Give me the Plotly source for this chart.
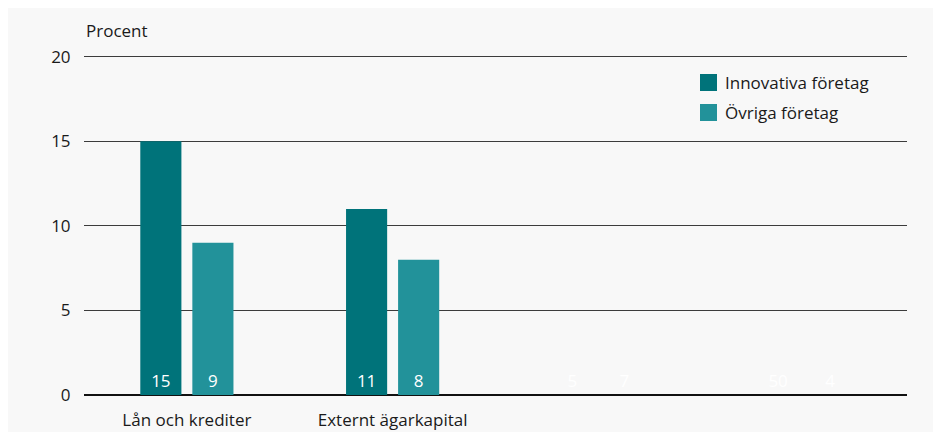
import plotly.graph_objects as go

categories = ["Lån och krediter", "Externt ägarkapital", "", ""]
innovativa = [15, 11, 5, 50]
ovriga = [9, 8, 7, 4]
series_names = ["Innovativa företag", "Övriga företag"]
y_ticks = [0, 5, 10, 15, 20]

dark = "#00737A"
light = "#22929A"
bg = "#F8F8F8"
font = "Open Sans"

W, H = 941, 432
OFF = 8  # page body margin
YMAX = 20.1
L, R, T, B = 84 - OFF, 42, 47, 45
pw, ph = W - L - R, H - T - B

x = list(range(len(categories)))

def colors(c):
    return [c, c, "rgba(0,0,0,0)", "rgba(0,0,0,0)"]

fig = go.Figure()
for name, vals, col in [(series_names[0], innovativa, dark), (series_names[1], ovriga, light)]:
    fig.add_trace(go.Bar(
        x=x, y=vals, name=name,
        marker=dict(color=colors(col), line=dict(width=0)),
        text=[str(v) for v in vals],
        textposition="inside", insidetextanchor="start",
        textfont=dict(color="white", size=17, family=font),
        textangle=0, cliponaxis=True, showlegend=False,
    ))

# convert screenshot pixel positions to paper coords
def px_x(p):
    return (p - OFF - L) / pw

def px_y(p):
    return (H - B - (p - OFF)) / ph

shapes = []
annotations = [dict(text="Procent", xref="paper", yref="paper", x=0, y=px_y(30),
                    xanchor="left", yanchor="middle", showarrow=False,
                    font=dict(size=17))]
for i, (name, col) in enumerate([(series_names[0], dark), (series_names[1], light)]):
    top = 74 + 30 * i
    shapes.append(dict(type="rect", xref="paper", yref="paper",
                       x0=px_x(700), x1=px_x(717), y0=px_y(top + 17), y1=px_y(top),
                       fillcolor=col, line=dict(width=0)))
    annotations.append(dict(text=name, xref="paper", yref="paper", x=px_x(723),
                            y=px_y(top + 8.5), xanchor="left", yanchor="middle",
                            showarrow=False, font=dict(size=17)))

fig.update_layout(
    width=W, height=H,
    paper_bgcolor=bg, plot_bgcolor=bg,
    margin=dict(l=L, r=R, t=T, b=B, autoexpand=False),
    barmode="group", bargap=0.494, bargroupgap=0.21,
    font=dict(family=font, size=17, color="#1a1a1a"),
    showlegend=False,
    xaxis=dict(tickmode="array", tickvals=x, ticktext=categories,
               range=[-0.5, 3.5], showgrid=False, ticks="outside", ticklen=10,
               tickcolor="rgba(0,0,0,0)", zeroline=False,
               showline=False, tickfont=dict(size=17), automargin=False),
    yaxis=dict(range=[0, YMAX], tickvals=y_ticks, showgrid=True, gridcolor="#3c3c3c",
               gridwidth=1, zeroline=True, zerolinecolor="#111111", zerolinewidth=2,
               ticks="outside", ticklen=9, tickcolor="rgba(0,0,0,0)",
               tickfont=dict(size=17), showline=False, automargin=False),
    shapes=shapes,
    annotations=annotations,
)

fig.write_html("out.html")
